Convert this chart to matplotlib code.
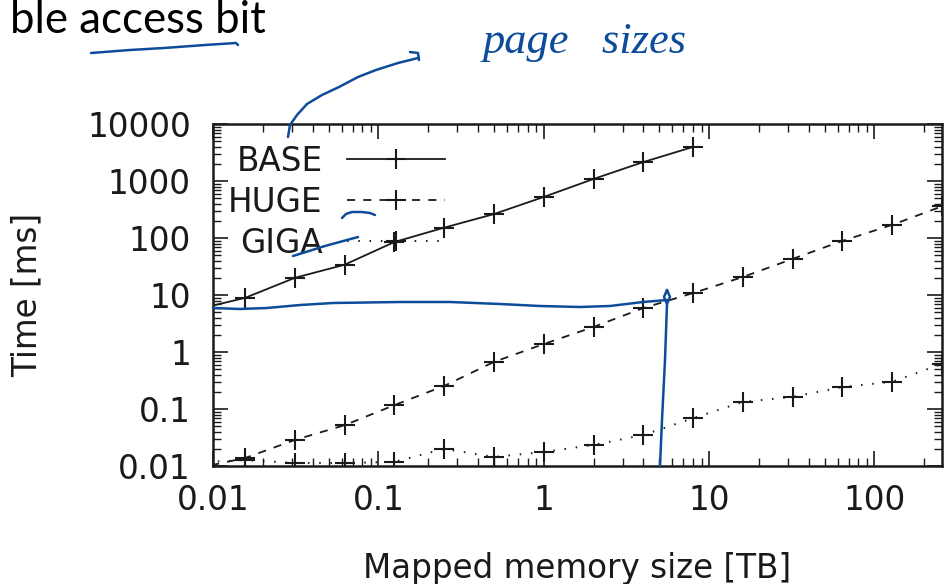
import matplotlib
matplotlib.use("Agg")
import matplotlib.pyplot as plt
from matplotlib.lines import Line2D
from matplotlib.ticker import LogLocator, FixedLocator, FixedFormatter, NullFormatter

plt.rcParams["font.family"] = ["DejaVu Sans"]

# ---------------- data ----------------
mem_tb = [0.0078125, 0.015625, 0.03125, 0.0625, 0.125, 0.25, 0.5, 1, 2, 4,
          8, 16, 32, 64, 128, 256]
base_ms = [5.5, 8.9, 20, 34, 85, 152, 263, 525, 1085, 2150, 3960]
huge_ms = [0.009, 0.0138, 0.0286, 0.052, 0.117, 0.254, 0.67, 1.38, 2.75, 5.9,
           10.8, 20.7, 43, 89, 170, 360]
giga_ms = [0.0115, 0.0127, 0.0113, 0.0113, 0.0118, 0.020, 0.0144, 0.0176,
           0.0234, 0.035, 0.069, 0.133, 0.163, 0.243, 0.30, 0.62]
series_names = ["BASE", "HUGE", "GIGA"]
x_ticks = [0.01, 0.1, 1, 10, 100]
x_tick_labels = ["0.01", "0.1", "1", "10", "100"]
y_ticks = [0.01, 0.1, 1, 10, 100, 1000, 10000]
y_tick_labels = ["0.01", "0.1", "1", "10", "100", "1000", "10000"]

W, H = 945, 584
fig = plt.figure(figsize=(W / 100, H / 100), dpi=100)
fig.patch.set_facecolor("white")

def F(x, y):
    return x / W, 1 - y / H

left, right, top, bottom = 213, 942, 124, 466
ax = fig.add_axes([left / W, 1 - bottom / H, (right - left) / W, (bottom - top) / H])

FS = 23.5
ink = "#1a1a1a"
ms = 15
mew = 1.5
ax.plot(mem_tb[:len(base_ms)], base_ms, color=ink, lw=1.3, ls="-",
        marker="+", ms=ms, mew=mew, label=series_names[0])
ax.plot(mem_tb, huge_ms, color=ink, lw=1.3, dashes=(4.5, 4.5),
        marker="+", ms=ms, mew=mew, label=series_names[1])
ax.plot(mem_tb, giga_ms, color=ink, lw=1.4, dashes=(0.8, 5),
        marker="+", ms=ms, mew=mew, label=series_names[2])

ax.set_xscale("log")
ax.set_yscale("log")
ax.set_xlim(0.01, 256)
ax.set_ylim(0.01, 10000)

ax.xaxis.set_major_locator(FixedLocator(x_ticks))
ax.xaxis.set_major_formatter(FixedFormatter(x_tick_labels))
ax.yaxis.set_major_locator(FixedLocator(y_ticks))
ax.yaxis.set_major_formatter(FixedFormatter(y_tick_labels))
ax.xaxis.set_minor_locator(LogLocator(base=10, subs=range(2, 10), numticks=20))
ax.yaxis.set_minor_locator(LogLocator(base=10, subs=range(2, 10), numticks=20))
ax.xaxis.set_minor_formatter(NullFormatter())
ax.yaxis.set_minor_formatter(NullFormatter())

ax.tick_params(which="both", direction="in", top=True, right=True, colors=ink)
ax.tick_params(which="major", length=11, width=1.2, labelsize=FS)
ax.tick_params(which="minor", length=6, width=1.0)
ax.tick_params(axis="x", which="major", pad=13)
ax.tick_params(axis="y", which="major", pad=16)
for sp in ax.spines.values():
    sp.set_linewidth(1.8)
    sp.set_color(ink)

ax.set_xlabel("Mapped memory size [TB]", fontsize=FS, color=ink)
ax.set_ylabel("Time [ms]", fontsize=FS, color=ink)
ax.xaxis.set_label_coords(0.5, -0.252)
ax.yaxis.set_label_coords(-0.232, 0.5)

leg = ax.legend(loc="upper right", bbox_to_anchor=(0.318, 0.94),
                frameon=False, fontsize=FS, markerfirst=False, numpoints=1,
                handlelength=3.0, handletextpad=0.75, labelspacing=0.25,
                borderpad=0, borderaxespad=0)
for t in leg.get_texts():
    t.set_color(ink)

# ---------------- slide text & ink annotations ----------------
fig.text(*F(266, 33), "ble access bit", fontsize=31.5, family="Lato",
         ha="right", va="baseline", color="black")

blue = "#0d4c9a"
def stroke(pts, lw=1.8):
    xs = [p[0] / W for p in pts]
    ys = [1 - p[1] / H for p in pts]
    fig.add_artist(Line2D(xs, ys, color=blue, lw=lw, zorder=10,
                          solid_capstyle="round", solid_joinstyle="round"))

stroke([(91, 53), (130, 50), (164, 48), (205, 45), (236, 43), (238, 45)])
stroke([(288, 137), (290, 125), (297, 115), (307, 104), (322, 95), (339, 87),
        (358, 77), (376, 70), (398, 63), (418, 58)])
stroke([(410, 52), (418, 53), (419, 60)])
stroke([(342, 218), (346, 214), (352, 212), (362, 212), (370, 213), (375, 215)])
stroke([(293, 256), (325, 246), (358, 237)])
stroke([(213, 308), (240, 309), (267, 308), (300, 305), (333, 303), (400, 302),
        (450, 302), (500, 304), (540, 306), (580, 307), (610, 306), (643, 302),
        (667, 300)])
stroke([(667, 290), (670, 297), (667, 304), (664, 297), (667, 290)])
stroke([(667, 304), (665, 360), (662, 420), (660, 466)])
fig.text(*F(585, 42), "page   sizes", fontsize=32, family="Liberation Serif",
         style="italic", ha="center", va="center", color=blue)

fig.savefig("out.png", dpi=100)
